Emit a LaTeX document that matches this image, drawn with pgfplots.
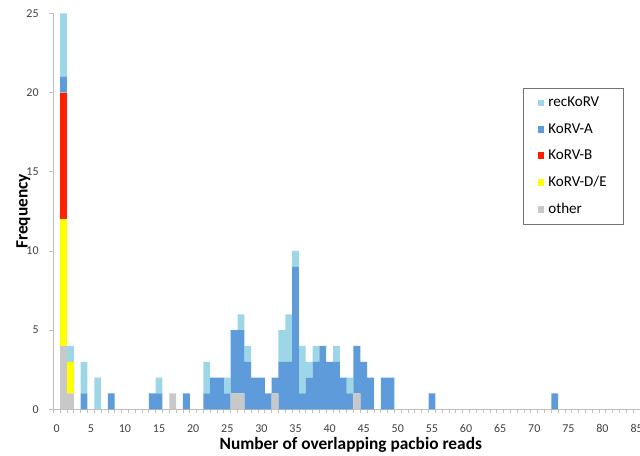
\documentclass[border=0pt]{standalone}
\usepackage{pgfplots}
\pgfplotsset{compat=1.18}
\usepackage{pgfplotstable}
\usepackage{fontspec}
\setmainfont{Carlito}
\definecolor{crec}{HTML}{9DD6E6}
\definecolor{ca}{HTML}{5E9BDB}
\definecolor{cb}{HTML}{FF2000}
\definecolor{cde}{HTML}{FFFF00}
\definecolor{cother}{HTML}{C8C8C8}
\definecolor{axgray}{HTML}{BFBFBF}
\definecolor{txt}{HTML}{404040}

\pgfplotstableread{
v other de b a rec
1 4 8 8 1 4
2 1 2 0 0 1
4 0 0 0 1 2
6 0 0 0 0 2
8 0 0 0 1 0
14 0 0 0 1 0
15 0 0 0 1 1
17 1 0 0 0 0
19 0 0 0 1 0
22 0 0 0 1 2
23 0 0 0 2 0
24 0 0 0 2 0
25 0 0 0 1 1
26 1 0 0 4 0
27 1 0 0 4 1
28 0 0 0 3 1
29 0 0 0 2 0
30 0 0 0 2 0
31 0 0 0 1 0
32 1 0 0 1 0
33 0 0 0 3 2
34 0 0 0 3 3
35 0 0 0 9 1
36 0 0 0 1 3
37 0 0 0 2 1
38 0 0 0 3 1
39 0 0 0 4 0
40 0 0 0 3 0
41 0 0 0 3 1
42 0 0 0 2 0
43 0 0 0 1 1
44 1 0 0 3 0
45 0 0 0 3 0
46 0 0 0 2 0
48 0 0 0 2 0
49 0 0 0 2 0
55 0 0 0 1 0
73 0 0 0 1 0
}\datatable

\begin{document}
\begin{tikzpicture}
\begin{axis}[
  scale only axis,
  width=440pt, height=297pt,
  at={(0pt,0pt)}, anchor=south west,
  xmin=-0.5, xmax=85.5, ymin=0, ymax=25,
  ybar stacked, bar width=1,
  axis x line*=bottom, axis y line*=left,
  axis line style={axgray, line width=0.8pt},
  every axis plot/.append style={draw=none},
  xtick={0,5,...,85},
  minor xtick={-0.5,0.5,...,85.5},
  ytick={0,5,...,25},
  tick align=outside,
  major tick length=3pt, minor tick length=3pt,
  major x tick style={draw=none},
  every tick/.style={axgray, line width=0.6pt},
  /pgf/number format/assume math mode=true,
  tick label style={font=\fontsize{9}{10}\selectfont, text=txt},
  yticklabel style={xshift=-4.5pt},
  xticklabel style={yshift=-5pt},
  every axis x label/.style={at={(axis description cs:0.507,-0.101)}, anchor=base},
  every axis y label/.style={at={(axis description cs:-0.0511,0.5)}, anchor=center, rotate=90},
  label style={font=\fontsize{13}{15}\selectfont\bfseries},
  xlabel={Number of overlapping pacbio reads},
  ylabel={Frequency},
  reverse legend,
  legend style={at={(0.801,0.8115)}, anchor=north west, draw=black!55, line width=0.6pt,
    font=\fontsize{11.3}{13}\selectfont, cells={anchor=west}, row sep=7pt,
    inner xsep=10.5pt, inner ysep=4.5pt,
    /tikz/every odd column/.append style={column sep=1pt}},
  legend image code/.code={\path[#1] (0pt,-2.5pt) rectangle (5pt,2.5pt);},
]
\addplot[fill=cother] table[x=v, y=other] {\datatable};
\addplot[fill=cde] table[x=v, y=de] {\datatable};
\addplot[fill=cb] table[x=v, y=b] {\datatable};
\addplot[fill=ca] table[x=v, y=a] {\datatable};
\addplot[fill=crec] table[x=v, y=rec] {\datatable};
\legend{other,KoRV-D/E,KoRV-B,KoRV-A,recKoRV}
\end{axis}
\pgfresetboundingbox
\path (-40pt,-35pt) rectangle (440pt,307pt);
\end{tikzpicture}
\end{document}
